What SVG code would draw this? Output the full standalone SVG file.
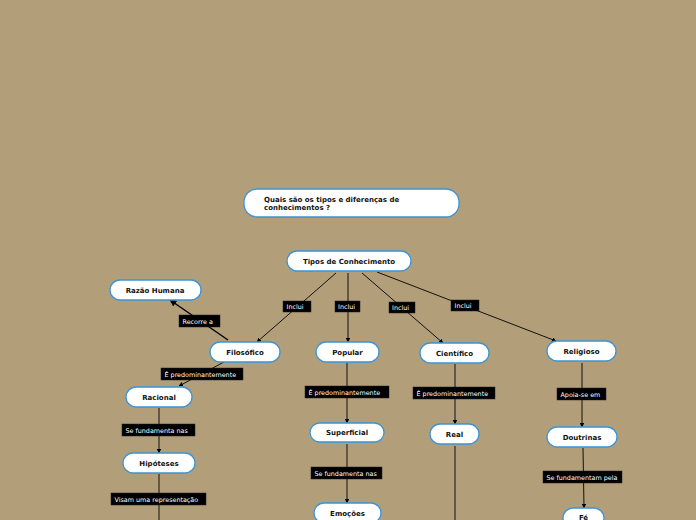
<svg xmlns="http://www.w3.org/2000/svg" width="696" height="520" viewBox="0 0 696 520">
<defs>
<marker id="ah" viewBox="0 0 10 10" refX="9" refY="5" markerWidth="5" markerHeight="5" orient="auto"><path d="M0,0 L10,5 L0,10 z" fill="#000"/></marker>
<style>
.n rect{fill:#fff;stroke:#3a95d6;stroke-width:1.3}
.n text{font-family:"DejaVu Sans",Verdana,sans-serif;font-weight:bold;font-size:7px;fill:#111;text-anchor:middle}
.c line{stroke:#000;stroke-width:0.9;marker-end:url(#ah)}
.c line.p{marker-end:none}
.c line.t{stroke-width:1.4}
.l rect{fill:#000;stroke:#222;stroke-width:0.5}
.l text{font-family:"DejaVu Sans",Verdana,sans-serif;font-size:6.4px;fill:#fff}
</style>
</defs>
<rect width="696" height="520" fill="#b39e7a"/>
<g class="c" id="connectors">
<line x1="336" y1="273" x2="257" y2="342"/>
<line x1="348" y1="273" x2="348" y2="342"/>
<line x1="362" y1="273" x2="443" y2="343"/>
<line x1="377" y1="272" x2="556" y2="341"/>
<line class="t" x1="228" y1="340" x2="170" y2="300"/>
<line x1="224" y1="362" x2="179" y2="386"/>
<line x1="159" y1="408" x2="159" y2="453"/>
<line class="p" x1="159" y1="474" x2="159" y2="520"/>
<line x1="347" y1="363" x2="347" y2="423"/>
<line x1="347" y1="444" x2="347" y2="503"/>
<line x1="455" y1="364" x2="455" y2="424"/>
<line class="p" x1="455" y1="446" x2="455" y2="520"/>
<line x1="582" y1="363" x2="582" y2="427"/>
<line x1="583" y1="448" x2="584" y2="508"/>
</g>
<g class="l" id="labels">
<rect x="283" y="301" width="28" height="11"/><text x="286.5" y="309">Inclui</text>
<rect x="335" y="301" width="25" height="11"/><text x="338" y="309">Inclui</text>
<rect x="389" y="302" width="26" height="11"/><text x="392" y="310">Inclui</text>
<rect x="451" y="300" width="28" height="11"/><text x="454.5" y="308">Inclui</text>
<rect x="179" y="315" width="41" height="12"/><text x="182.5" y="323.5">Recorre a</text>
<rect x="161" y="368" width="82" height="12"/><text x="164.5" y="376.5">É predominantemente</text>
<rect x="122" y="424" width="73" height="12"/><text x="125.5" y="432.5">Se fundamenta nas</text>
<rect x="111" y="493" width="95" height="12"/><text x="114.5" y="501.5">Visam uma representação</text>
<rect x="305" y="386" width="84" height="12"/><text x="308.5" y="394.5">É predominantemente</text>
<rect x="311" y="467" width="71" height="12"/><text x="314.5" y="475.5">Se fundamenta nas</text>
<rect x="413" y="387" width="82" height="12"/><text x="416.5" y="395.5">É predominantemente</text>
<rect x="557" y="388" width="49" height="12"/><text x="560.5" y="396.5">Apoia-se em</text>
<rect x="543" y="471" width="79" height="12"/><text x="546.5" y="479.5">Se fundamentam pela</text>
</g>
<g class="n" id="n-title"><rect x="244" y="189" width="215" height="28" rx="13"/><text x="264" y="202" style="text-anchor:start">Quais são os tipos e diferenças de</text><text x="264" y="210" style="text-anchor:start">conhecimentos ?</text></g>
<g class="n" id="n-tipos"><rect x="287" y="251" width="124" height="20" rx="10"/><text x="349" y="263.5">Tipos de Conhecimento</text></g>
<g class="n" id="n-razao"><rect x="110" y="280" width="91" height="20" rx="10"/><text x="155" y="292.5">Razão Humana</text></g>
<g class="n" id="n-filosofico"><rect x="210" y="342" width="70" height="20" rx="10"/><text x="245" y="354.5">Filosófico</text></g>
<g class="n" id="n-popular"><rect x="316" y="342" width="63" height="20" rx="10"/><text x="347.5" y="354.5">Popular</text></g>
<g class="n" id="n-cientifico"><rect x="420" y="343" width="69" height="20" rx="10"/><text x="454.5" y="355.5">Científico</text></g>
<g class="n" id="n-religioso"><rect x="547" y="341" width="69" height="20" rx="10"/><text x="581.5" y="353.5">Religioso</text></g>
<g class="n" id="n-racional"><rect x="126" y="387" width="66" height="20" rx="10"/><text x="159" y="399.5">Racional</text></g>
<g class="n" id="n-hipoteses"><rect x="123" y="453" width="72" height="20" rx="10"/><text x="159" y="465.5">Hipóteses</text></g>
<g class="n" id="n-superficial"><rect x="310" y="423" width="74" height="19" rx="9.5"/><text x="347" y="435">Superficial</text></g>
<g class="n" id="n-emocoes"><rect x="314" y="503" width="67" height="20" rx="10"/><text x="347.5" y="515.5">Emoções</text></g>
<g class="n" id="n-real"><rect x="430" y="424" width="49" height="20" rx="10"/><text x="454.5" y="436.5">Real</text></g>
<g class="n" id="n-doutrinas"><rect x="547" y="427" width="70" height="20" rx="10"/><text x="582" y="439.5">Doutrinas</text></g>
<g class="n" id="n-fe"><rect x="563" y="508" width="41" height="20" rx="10"/><text x="583.5" y="519.5">Fé</text></g>
</svg>
